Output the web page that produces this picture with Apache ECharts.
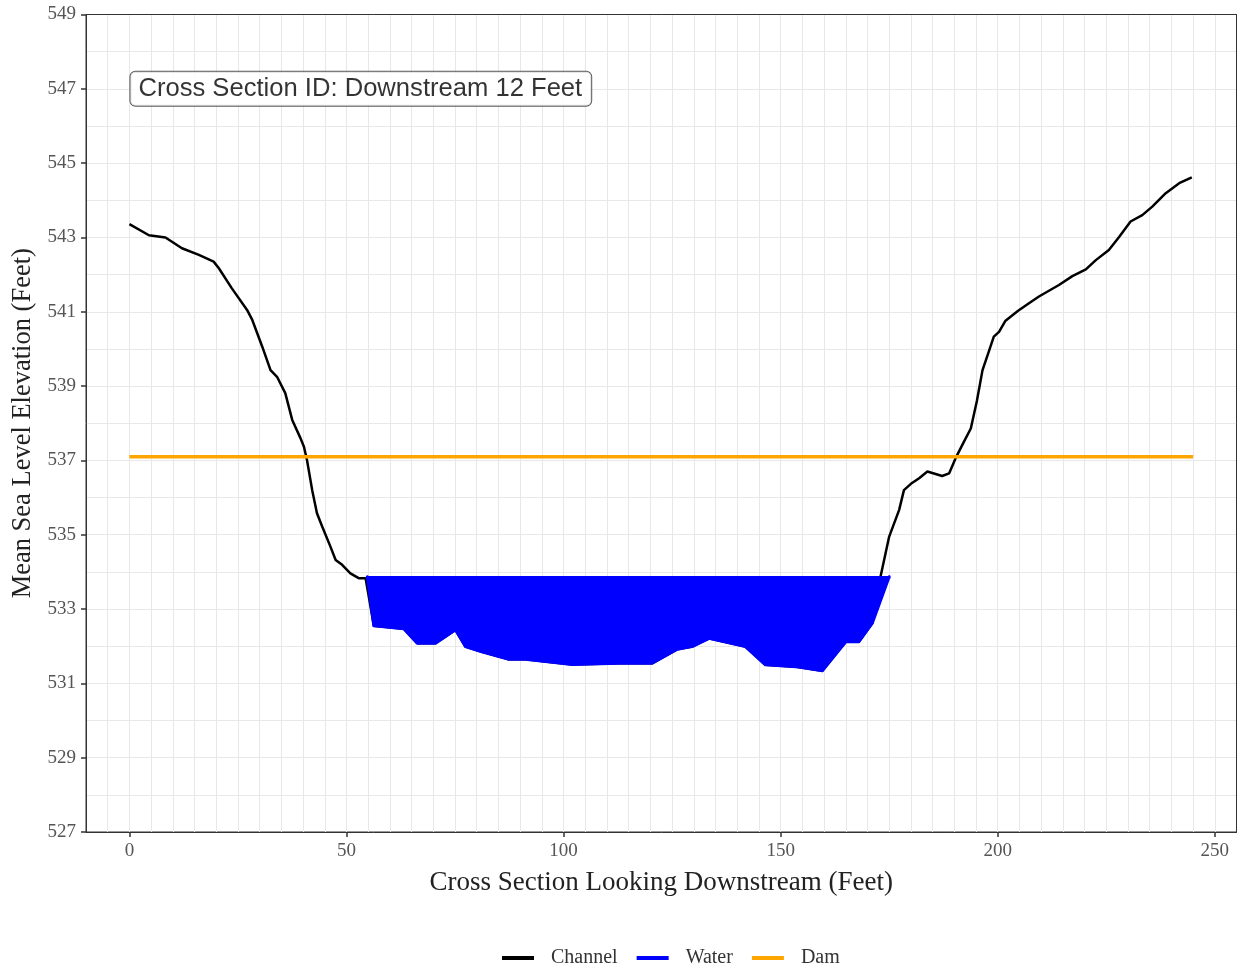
<!DOCTYPE html>
<html>
<head>
<meta charset="utf-8">
<script src="https://cdn.jsdelivr.net/npm/echarts@6.0.0/dist/echarts.min.js"></script>
<style>
  html, body { margin: 0; padding: 0; background: #fff; }
  #main { width: 1238px; height: 969px; }
</style>
</head>
<body>
<div id="main"></div>
<script>
// channel bed profile (station ft, elevation ft)
var channelX = [0, 4.5, 8.3, 12.1, 16, 19.4, 20.6, 23.6, 27.1, 28.3, 30.6, 32.5, 34, 35.9, 37.5, 39.4, 40.2, 40.9,
  42.1, 43.2, 44.4, 46.3, 47.5, 49, 50.9, 52.8, 54.4,
  56.3, 63.2, 66.3, 70.5, 75.1, 77.4, 81.2, 87.4, 91.2, 102, 112.7, 120.4, 126.2, 129.6, 133.5, 141.9, 146.5,
  153.5, 159.6, 165, 168, 171.1,
  173, 175, 177.3, 178.4, 180, 181.9, 183.8, 187.2, 188.8, 190.3, 192.2, 193.8, 195.2, 196.5, 198, 199.1, 200.3,
  201.8, 204.7, 207.2, 209.5, 214.1, 217.2, 220.3, 222.6, 225.6, 228, 230.6, 233.3, 235.6, 238.7, 241.8, 244.7];
var channelY = [543.36, 543.06, 543.0, 542.71, 542.53, 542.35, 542.17, 541.63, 541.05, 540.78, 540.06, 539.43, 539.25,
  538.81, 538.09, 537.6, 537.37, 537.01, 536.2, 535.58, 535.22, 534.68, 534.32, 534.19, 533.96, 533.83, 533.83,
  532.55, 532.47, 532.08, 532.08, 532.44, 531.99, 531.85, 531.65, 531.65, 531.51, 531.54, 531.54, 531.92, 531.99,
  532.21, 531.99, 531.50, 531.45, 531.34, 532.12, 532.12, 532.62,
  533.87, 534.95, 535.67, 536.2, 536.37, 536.52, 536.70, 536.58, 536.65, 537.06, 537.5, 537.86, 538.6, 539.43,
  539.95, 540.33, 540.46, 540.76, 541.03, 541.23, 541.41, 541.72, 541.96, 542.14, 542.39, 542.66, 543.02, 543.43,
  543.6, 543.83, 544.19, 544.46, 544.62];

// water polygon: bed under the water surface
var waterX = [54.8, 56.3, 63.2, 66.3, 70.5, 75.1, 77.4, 81.2, 87.4, 91.2, 102, 112.7, 120.4, 126.2, 129.6, 133.5,
  141.9, 146.5, 153.5, 159.6, 165, 168, 171.1, 175];
var waterBed = [533.87, 532.55, 532.47, 532.08, 532.08, 532.44, 531.99, 531.85, 531.65, 531.65, 531.51, 531.54,
  531.54, 531.92, 531.99, 532.21, 531.99, 531.50, 531.45, 531.34, 532.12, 532.12, 532.62, 533.87];
var waterLevel = 533.85;

var damX = [0, 245];
var damY = [537.1, 537.1];

var xTicks = [0, 50, 100, 150, 200, 250];
var sectionLabel = 'Cross Section ID: Downstream 12 Feet';
var labelPos = [0, 547];

var serif = "'Liberation Serif', 'DejaVu Serif', serif";
var border = { show: true, onZero: false, lineStyle: { color: '#333', width: 1 } };

function zip(a, b) {
  return a.map(function (v, i) { return [v, b[i]]; });
}

var chart = echarts.init(document.getElementById('main'));

var option = {
  animation: false,
  backgroundColor: '#fff',
  grid: {
    left: 86, right: 1.5, top: 14.5, bottom: 137,
    show: true, borderColor: '#333', borderWidth: 1, backgroundColor: '#fff'
  },
  legend: {
    data: ['Channel', 'Water', 'Dam'],
    left: 497, top: 943,
    icon: 'rect', itemWidth: 32, itemHeight: 4, itemGap: 19,
    textStyle: { fontFamily: serif, fontSize: 20, color: '#333', padding: [0, 0, 0, 12] }
  },
  xAxis: [
    {
      type: 'value', min: -10, max: 255, interval: 5,
      axisLine: border,
      axisTick: { show: false },
      axisLabel: { show: false },
      splitLine: { show: true, lineStyle: { color: '#e8e8e8', width: 1 } }
    },
    {
      type: 'value', min: -10, max: 255, position: 'bottom',
      axisLine: { show: false, onZero: false },
      axisTick: { show: true, length: 5, customValues: xTicks, lineStyle: { color: '#333', width: 1.5 } },
      axisLabel: { customValues: xTicks, fontFamily: serif, fontSize: 19, color: '#555', margin: 10 },
      splitLine: { show: false },
      name: 'Cross Section Looking Downstream (Feet)',
      nameLocation: 'middle', nameGap: 37,
      nameTextStyle: { fontFamily: serif, fontSize: 27, color: '#222' }
    },
    {
      // panel border, top
      type: 'value', min: -10, max: 255, position: 'top',
      axisLine: border, axisTick: { show: false }, axisLabel: { show: false }, splitLine: { show: false }
    }
  ],
  yAxis: [
    {
      type: 'value', min: 527, max: 549, interval: 2,
      axisLine: border,
      axisTick: { show: true, length: 5, lineStyle: { color: '#333', width: 1.5 } },
      axisLabel: { fontFamily: serif, fontSize: 19, color: '#555', margin: 10 },
      splitLine: { show: true, lineStyle: { color: '#e8e8e8', width: 1 } },
      minorTick: { show: false, splitNumber: 2 },
      minorSplitLine: { show: true, lineStyle: { color: '#e8e8e8', width: 1 } },
      name: 'Mean Sea Level Elevation (Feet)',
      nameLocation: 'middle', nameGap: 48,
      nameTextStyle: { fontFamily: serif, fontSize: 26.5, color: '#222' }
    },
    {
      // panel border, right
      type: 'value', min: 527, max: 549, position: 'right',
      axisLine: border, axisTick: { show: false }, axisLabel: { show: false }, splitLine: { show: false }
    }
  ],
  series: [
    {
      name: 'Channel', type: 'line', xAxisIndex: 0, yAxisIndex: 0,
      data: zip(channelX, channelY),
      showSymbol: false, smooth: false, z: 2,
      itemStyle: { color: '#000' },
      lineStyle: { color: '#000', width: 2.5 }
    },
    {
      name: 'Water', type: 'custom', xAxisIndex: 0, yAxisIndex: 0, z: 3,
      data: [0],
      itemStyle: { color: '#0000ff' },
      renderItem: function (params, api) {
        var pts = waterX.map(function (x, i) { return api.coord([x, waterBed[i]]); });
        // close along the water surface
        pts.push(api.coord([waterX[waterX.length - 1], waterLevel]));
        pts.push(api.coord([waterX[0], waterLevel]));
        return {
          type: 'polygon',
          shape: { points: pts },
          style: { fill: '#0000ff', stroke: '#0000ff', lineWidth: 3, lineJoin: 'round' }
        };
      }
    },
    {
      name: 'Dam', type: 'line', xAxisIndex: 0, yAxisIndex: 0,
      data: zip(damX, damY),
      showSymbol: false, z: 4,
      itemStyle: { color: '#ffa500' },
      lineStyle: { color: '#ffa500', width: 3.5 }
    },
    {
      name: 'label', type: 'scatter', xAxisIndex: 0, yAxisIndex: 0, silent: true, z: 10,
      data: [labelPos],
      symbolSize: 0,
      label: {
        show: true, position: 'right', distance: 1,
        formatter: sectionLabel,
        fontFamily: "'Liberation Sans', Arial, sans-serif", fontSize: 25.6, lineHeight: 28, color: '#000',
        backgroundColor: '#fff', borderColor: '#333', borderWidth: 1, borderRadius: 5,
        padding: [3, 9, 3, 8]
      }
    }
  ]
};

chart.setOption(option);
</script>
</body>
</html>
